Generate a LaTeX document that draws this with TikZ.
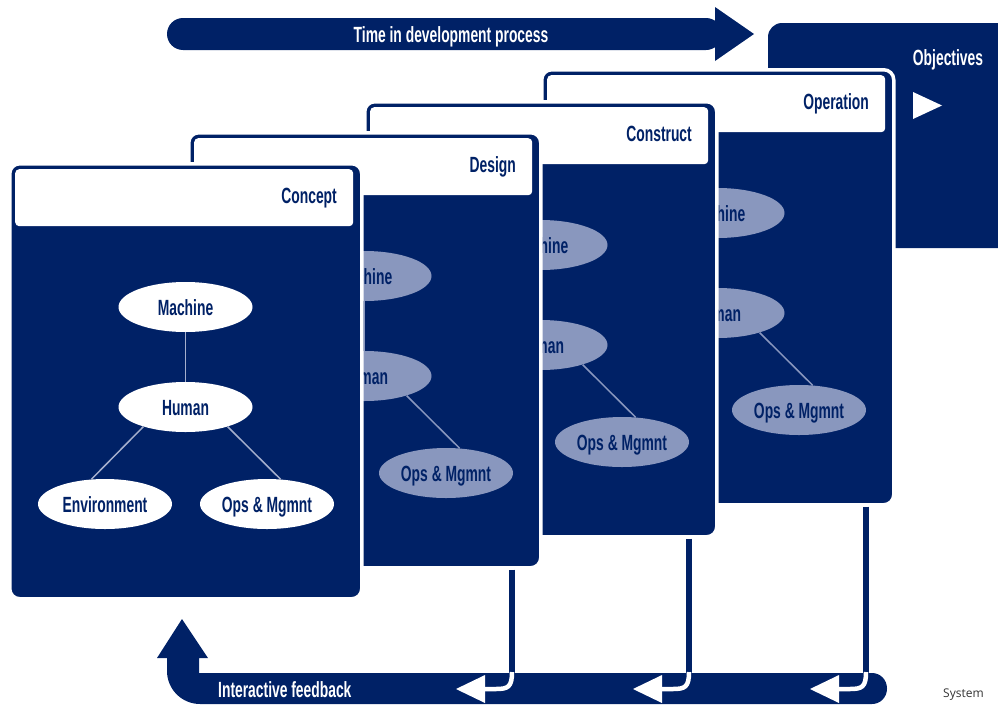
\documentclass[tikz,border=0pt]{standalone}
\usepackage{fontspec}
\usetikzlibrary{shapes.geometric}
\newfontfamily\cond{Liberation Sans}[FakeStretch=0.63]
\newfontfamily\sysfont{Open Sans}
\definecolor{navy}{RGB}{0,33,102}
\definecolor{lightel}{RGB}{137,151,190}
\definecolor{linklt}{RGB}{165,175,205}
\begin{document}
\begin{tikzpicture}[x=1pt,y=-1pt,
  lbl/.style={font=\cond\bfseries\fontsize{22}{22}\selectfont},
  card/.style={rectangle, minimum width=352pt, minimum height=435pt, rounded corners=10pt, fill=navy, draw=white, line width=3.5pt, inner sep=0pt, anchor=north west},
  header/.style={rectangle, minimum width=338pt, minimum height=57pt, rounded corners=4pt, fill=white, inner sep=0pt, anchor=north west},
  cardlabel/.style={lbl, text=navy, anchor=base east, inner sep=0pt},
  elfront/.style={ellipse, minimum width=134pt, minimum height=50pt, inner sep=0pt, fill=white, text=navy, lbl, text height=16pt, text depth=0pt},
  elback/.style={elfront, fill=lightel},
  linkfront/.style={draw=linklt, line width=1.5pt},
  linkback/.style={draw=lightel, line width=1.5pt},
  fbline/.style={draw=navy, line width=6pt},
  hook/.style={draw=white, line width=4.5pt},
  whitetxt/.style={lbl, text=white, inner sep=0pt}
]
\useasboundingbox (0,0) rectangle (998,707);
\clip (0,0) rectangle (998,707);

% top arrow
\fill[navy, rounded corners=16pt] (167,18) rectangle (722,50);
\fill[navy] (715,7) -- (754,34) -- (715,61) -- cycle;
\node[whitetxt, anchor=base] (timetxt) at (451,42) {Time in development process};

% objectives panel
\fill[navy, rounded corners=14pt] (768,23) rectangle (1030,248);
\node[whitetxt, anchor=base] (objtxt) at (948,65) {Objectives};
\fill[white] (913,92) -- (942,105.5) -- (913,119) -- cycle;

% cards, back to front
\foreach \n/\x/\y/\lab/\es/\ls in {op/540/68/Operation/elback/linkback, co/363/100/Construct/elback/linkback, de/187/131/Design/elback/linkback, cc/8/162/Concept/elfront/linkfront} {
  \node[card] (\n-card) at (\x,\y) {};
  \node[header] (\n-head) at (\x+7,\y+7) {};
  \node[cardlabel] (\n-lab) at (\x+329,\y+41) {\lab};
  \node[\es] (\n-mach) at (\x+177.5,\y+145) {Machine};
  \node[\es] (\n-hum) at (\x+177.5,\y+245) {Human};
  \node[\es] (\n-env) at (\x+97,\y+342) {Environment};
  \node[\es] (\n-ops) at (\x+259,\y+342) {Ops \& Mgmnt};
  \draw[\ls] (\n-mach) -- (\n-hum);
  \draw[\ls] (\n-hum.205) -- (\n-env.119);
  \draw[\ls] (\n-hum.-25) -- (\n-ops.61);
}

% feedback lines
\coordinate (fb1) at (512,676);
\coordinate (fb2) at (689,676);
\coordinate (fb3) at (866,676);
\draw[fbline] (de-card.south -| fb1) -- (fb1);
\draw[fbline] (co-card.south -| fb2) -- (fb2);
\draw[fbline] (op-card.south -| fb3) -- (fb3);

% feedback bar with upward arrow
\fill[navy] (199,673) -- (872,673) .. controls (880.3,673) and (887,679.7) .. (887,688.5) .. controls (887,697.3) and (880.3,704) .. (872,704) -- (200,704) .. controls (181.8,704) and (167,689.2) .. (167,671) -- (167,658) -- (157,658) -- (182,619) -- (208,658) -- (199,658) -- cycle;

% white hooks
\foreach \xl in {512,689,866} {
  \draw[hook] (\xl,672) .. controls (\xl,687) and (\xl-4,689) .. (\xl-16,689) -- (\xl-28,689);
  \fill[white] (\xl-27,675) -- (\xl-56,689) -- (\xl-27,703) -- cycle;
}

\node[whitetxt, anchor=base west] (fbtxt) at (218,697) {Interactive feedback};
\node[font=\sysfont\fontsize{12}{12}\selectfont, text=black!80, anchor=base west, inner sep=0pt] (systxt) at (943,697) {System};
\end{tikzpicture}
\end{document}
